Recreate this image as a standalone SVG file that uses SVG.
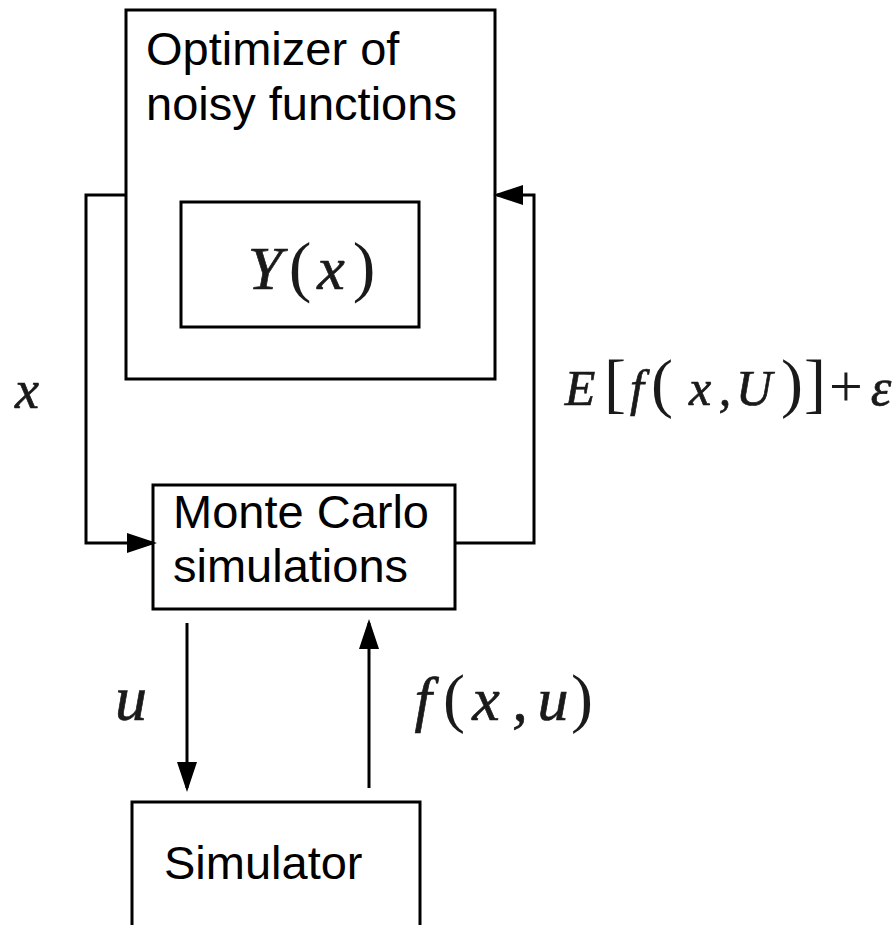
<svg xmlns="http://www.w3.org/2000/svg" width="896" height="925" viewBox="0 0 896 925">
  <style>
    .box { fill: #ffffff; stroke: #000000; stroke-width: 3; }
    .wire { fill: none; stroke: #000000; stroke-width: 3; }
    .lbl { font-family: "Liberation Sans", Arial, sans-serif; font-size: 47px; fill: #000000; }
    .m { font-family: "Liberation Serif", "Times New Roman", serif; font-style: italic; fill: #1a1a1a; stroke: #1a1a1a; stroke-width: 0.7; text-anchor: middle; }
    .r { font-family: "Liberation Serif", "Times New Roman", serif; font-style: normal; fill: #1a1a1a; text-anchor: middle; }
  </style>
  <defs>
    <marker id="head" markerUnits="userSpaceOnUse" markerWidth="30" markerHeight="20" refX="26" refY="10" orient="auto">
      <path d="M0,0 L30,10 L0,20 Z" fill="#000000"/>
    </marker>
  </defs>

  <!-- optimizer block with its inner model box -->
  <g id="optimizer">
    <rect class="box" x="126" y="10" width="369" height="369"/>
    <text class="lbl" x="146" y="65">Optimizer of</text>
    <text class="lbl" x="146" y="120">noisy functions</text>
  </g>
  <g id="model">
    <rect class="box" x="181" y="202" width="238" height="125"/>
    <text class="m" x="265" y="289" font-size="62">Y</text>
    <text class="r" x="300" y="289" font-size="68">(</text>
    <text class="m" x="331" y="289" font-size="62">x</text>
    <text class="r" x="364" y="289" font-size="68">)</text>
  </g>

  <g id="montecarlo">
    <rect class="box" x="153" y="485" width="302" height="124"/>
    <text class="lbl" x="173" y="528">Monte Carlo</text>
    <text class="lbl" x="173" y="582">simulations</text>
  </g>

  <g id="simulator">
    <rect class="box" x="132" y="802" width="288" height="140"/>
    <text class="lbl" x="164" y="879">Simulator</text>
  </g>

  <!-- connectors -->
  <g id="connectors">
    <path class="wire" d="M126,195 H86 V543 H153" marker-end="url(#head)"/>
    <path class="wire" d="M455,543 H534 V195 H497" marker-end="url(#head)"/>
    <path class="wire" d="M187,623 V788" marker-end="url(#head)"/>
    <path class="wire" d="M369,788 V623" marker-end="url(#head)"/>
  </g>

  <!-- connector labels -->
  <g id="labels">
    <text class="m" x="27" y="408" font-size="54">x</text>

    <text class="m" x="580" y="405" font-size="50">E</text>
    <text class="r" x="615" y="405" font-size="66">[</text>
    <text class="m" x="637" y="405" font-size="50">f</text>
    <text class="r" x="662" y="405" font-size="66">(</text>
    <text class="m" x="700" y="405" font-size="50">x</text>
    <text class="m" x="725" y="405" font-size="50">,</text>
    <text class="m" x="754" y="405" font-size="50">U</text>
    <text class="r" x="792" y="405" font-size="66">)</text>
    <text class="r" x="815" y="405" font-size="66">]</text>
    <text class="r" x="846" y="406" font-size="60">+</text>
    <text class="m" x="881" y="405" font-size="52">ε</text>

    <text class="m" x="131" y="720" font-size="64">u</text>

    <text class="m" x="423" y="720" font-size="62">f</text>
    <text class="r" x="454" y="720" font-size="66">(</text>
    <text class="m" x="486" y="720" font-size="62">x</text>
    <text class="m" x="520" y="720" font-size="62">,</text>
    <text class="m" x="553" y="720" font-size="62">u</text>
    <text class="r" x="582" y="720" font-size="66">)</text>
  </g>
</svg>
